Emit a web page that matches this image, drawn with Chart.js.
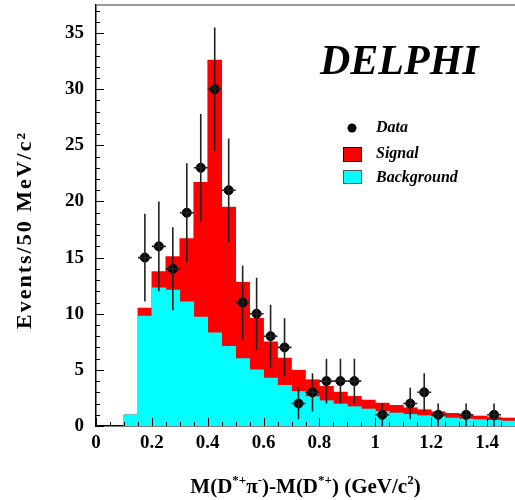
<!DOCTYPE html>
<html>
<head>
<meta charset="utf-8">
<script src="https://cdn.jsdelivr.net/npm/chart.js@4"></script>
<style>
  body { margin: 0; background: #fff; overflow: hidden; }
  #wrap { width: 515px; height: 500px; position: relative; }
</style>
</head>
<body>
<div id="wrap"><canvas id="massChart"></canvas></div>
<script>
// histogram bins, 50 MeV/c2 wide (bin centres in GeV/c2)
const binCenters = [0.125, 0.175, 0.225, 0.275, 0.325, 0.375, 0.425, 0.475, 0.525, 0.575,
  0.625, 0.675, 0.725, 0.775, 0.825, 0.875, 0.925, 0.975, 1.025, 1.075,
  1.125, 1.175, 1.225, 1.275, 1.325, 1.375, 1.425, 1.475];
const background = [1.0, 9.8, 12.3, 12.1, 11.05, 9.7, 8.3, 7.1, 6.0, 5.0,
  4.27, 3.62, 3.08, 2.62, 2.25, 1.96, 1.72, 1.51, 1.3, 1.16,
  1.04, 0.92, 0.83, 0.71, 0.62, 0.56, 0.5, 0.44];
const signal = [0, 0.7, 1.45, 3.0, 5.65, 12.0, 24.3, 12.4, 6.8, 4.6,
  3.23, 2.43, 1.89, 1.5, 1.28, 1.06, 0.92, 0.8, 0.74, 0.68,
  0.59, 0.53, 0.44, 0.42, 0.38, 0.33, 0.3, 0.27];

// data points with errors
const dataX = [0.175, 0.225, 0.275, 0.325, 0.375, 0.425, 0.475, 0.525, 0.575, 0.625,
  0.675, 0.725, 0.775, 0.825, 0.875, 0.925, 1.025, 1.125, 1.175, 1.225, 1.325, 1.425];
const dataY = [15, 16, 14, 19, 23, 30, 21, 11, 10, 8,
  7, 2, 3, 4, 4, 4, 1, 2, 3, 1, 1, 1];
const dataErr = [3.9, 4.0, 3.7, 4.4, 4.8, 5.5, 4.6, 3.3, 3.2, 2.8,
  2.6, 1.4, 1.7, 2.0, 2.0, 2.0, 1.0, 1.4, 1.7, 1.0, 1.0, 1.0];
const binHalfWidth = 0.025;

const SERIF = '"Liberation Serif", "Times New Roman", serif';

const totalPoints = binCenters.map((x, i) => ({ x: x, y: background[i] + signal[i] }));
const bgPoints = binCenters.map((x, i) => ({ x: x, y: background[i] }));
const dataPoints = dataX.map((x, i) => ({ x: x, y: dataY[i] }));

// error bars, inner ticks, frame
const decorations = {
  id: 'decorations',
  afterDatasetsDraw(chart) {
    const { ctx, chartArea, scales } = chart;
    const xs = scales.x, ys = scales.y;
    ctx.save();
    // error bars
    ctx.strokeStyle = '#222';
    ctx.lineWidth = 1.6;
    dataX.forEach((x, i) => {
      const px = xs.getPixelForValue(x);
      const py = ys.getPixelForValue(dataY[i]);
      ctx.beginPath();
      ctx.moveTo(px, ys.getPixelForValue(dataY[i] + dataErr[i]));
      ctx.lineTo(px, ys.getPixelForValue(Math.max(0, dataY[i] - dataErr[i])));
      ctx.moveTo(xs.getPixelForValue(x - binHalfWidth), py);
      ctx.lineTo(xs.getPixelForValue(x + binHalfWidth), py);
      ctx.stroke();
    });
    // inward ticks
    ctx.strokeStyle = '#000';
    ctx.lineWidth = 1;
    ctx.beginPath();
    for (let v = 0; v <= 37; v++) {
      const py = Math.round(ys.getPixelForValue(v)) + 0.5;
      const len = v % 5 === 0 ? 8 : 4;
      ctx.moveTo(chartArea.left, py);
      ctx.lineTo(chartArea.left + len, py);
    }
    for (let i = 0; i <= 30; i++) {
      const px = Math.round(xs.getPixelForValue(i * 0.05)) + 0.5;
      const len = i % 4 === 0 ? 8 : 4;
      ctx.moveTo(px, chartArea.bottom);
      ctx.lineTo(px, chartArea.bottom - len);
    }
    ctx.stroke();
    // top frame
    ctx.strokeStyle = '#777';
    ctx.lineWidth = 1.5;
    ctx.beginPath();
    ctx.moveTo(chartArea.left, chartArea.top);
    ctx.lineTo(chartArea.right, chartArea.top);
    ctx.stroke();
    ctx.restore();
  },
  afterDraw(chart) {
    const { ctx, chartArea } = chart;
    ctx.save();
    ctx.fillStyle = '#000';
    ctx.textBaseline = 'alphabetic';
    // DELPHI label
    ctx.font = 'italic bold 42px ' + SERIF;
    ctx.fillText('DELPHI', 320, 74);

    // legend
    ctx.font = 'italic bold 16px ' + SERIF;
    ctx.beginPath();
    ctx.arc(352, 128, 4.5, 0, Math.PI * 2);
    ctx.fill();
    ctx.fillText('Data', 376, 132);

    ctx.fillStyle = '#ff0000';
    ctx.fillRect(343, 147, 19, 15);
    ctx.strokeStyle = '#000';
    ctx.lineWidth = 1;
    ctx.strokeRect(343.5, 147.5, 18, 14);
    ctx.fillStyle = '#000';
    ctx.fillText('Signal', 376, 158);

    ctx.fillStyle = '#00ffff';
    ctx.fillRect(343, 170, 19, 14);
    ctx.strokeStyle = '#555';
    ctx.strokeRect(343.5, 170.5, 18, 13);
    ctx.fillStyle = '#000';
    ctx.fillText('Background', 376, 182);

    // y axis title (rotated, a bit spread out like the original)
    ctx.save();
    ctx.translate(31, 230);
    ctx.rotate(-Math.PI / 2);
    ctx.font = 'bold 22px ' + SERIF;
    ctx.letterSpacing = '2px';
    ctx.textAlign = 'center';
    ctx.fillText('Events/50 MeV/c\u00B2', 0, 0);
    ctx.restore();

    // x axis title with superscripts
    const big = 'bold 21px ' + SERIF, small = 'bold 13px ' + SERIF;
    const parts = [['M(D', 0], ['*+', 1], ['\u03C0', 0], ['-', 1], [')-M(D', 0], ['*+', 1],
      [') (GeV/c', 0], ['2', 1], [')', 0]];
    let width = 0;
    parts.forEach(p => { ctx.font = p[1] ? small : big; width += ctx.measureText(p[0]).width; });
    let x = (chartArea.left + chartArea.right) / 2 - width / 2;
    const base = 493;
    parts.forEach(p => {
      ctx.font = p[1] ? small : big;
      ctx.fillText(p[0], x, p[1] ? base - 9 : base);
      x += ctx.measureText(p[0]).width;
    });
    ctx.restore();
  }
};

new Chart(document.getElementById('massChart'), {
  type: 'bar',
  data: {
    datasets: [
      {
        type: 'scatter',
        label: 'Data',
        data: dataPoints,
        backgroundColor: '#000',
        borderColor: '#000',
        pointRadius: 4.5,
        pointHoverRadius: 4.5,
        order: 0,
      },
      {
        label: 'Background',
        data: bgPoints,
        backgroundColor: '#00ffff',
        borderWidth: 0,
        barPercentage: 1,
        categoryPercentage: 1,
        grouped: false,
        order: 1,
      },
      {
        label: 'Signal',
        data: totalPoints,
        backgroundColor: '#ff0000',
        borderWidth: 0,
        barPercentage: 1,
        categoryPercentage: 1,
        grouped: false,
        order: 2,
      },
    ],
  },
  options: {
    responsive: true,
    maintainAspectRatio: false,
    animation: false,
    layout: { autoPadding: false, padding: { top: 5, right: 0, left: 0, bottom: 0 } },
    plugins: {
      legend: { display: false },
      tooltip: { enabled: false },
    },
    scales: {
      x: {
        type: 'linear',
        min: 0,
        max: 1.5,
        offset: false,
        grid: { display: false, drawTicks: false, offset: false },
        border: { display: true, color: '#000', width: 1.5 },
        ticks: {
          stepSize: 0.2,
          includeBounds: false,
          padding: 6,
          color: '#000',
          font: { family: SERIF, size: 19, weight: 'bold' },
          callback: (v) => String(Math.round(v * 10) / 10),
        },
        afterFit(scale) {
          scale.height = 74;
          scale.paddingLeft = 0;
          scale.paddingRight = 0;
        },
      },
      y: {
        min: 0,
        max: 37.5,
        grid: { display: false, drawTicks: false },
        border: { display: true, color: '#000', width: 1.5 },
        ticks: {
          stepSize: 5,
          includeBounds: false,
          padding: 12,
          color: '#000',
          font: { family: SERIF, size: 19, weight: 'bold' },
        },
        afterFit(scale) {
          scale.width = 96;
          scale.paddingTop = 0;
          scale.paddingBottom = 0;
        },
      },
    },
  },
  plugins: [decorations],
});
</script>
</body>
</html>
